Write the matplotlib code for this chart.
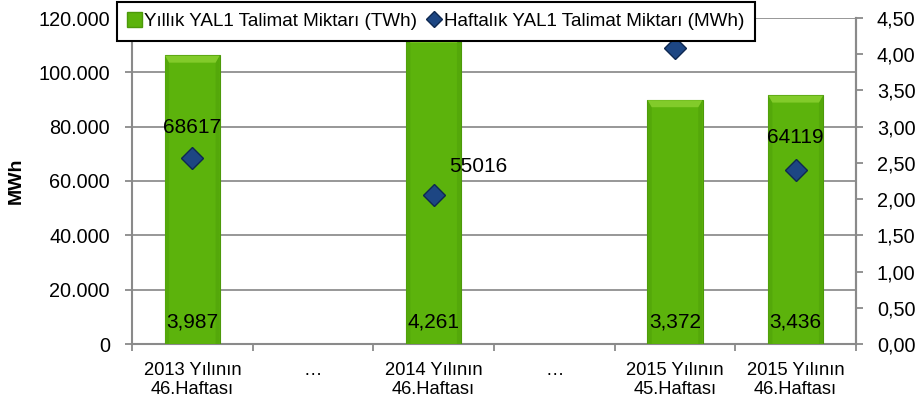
import numpy as np
import matplotlib
matplotlib.use("Agg")
import matplotlib.pyplot as plt
from matplotlib.ticker import FuncFormatter, FixedLocator
from matplotlib.lines import Line2D
from matplotlib.patches import Patch, Polygon
from matplotlib.transforms import IdentityTransform

plt.rcParams['font.family'] = ['Liberation Sans', 'DejaVu Sans']

categories = ["2013 Yılının\n46.Haftası", "…", "2014 Yılının\n46.Haftası", "…",
              "2015 Yılının\n45.Haftası", "2015 Yılının\n46.Haftası"]
yearly_twh = [3.987, np.nan, 4.261, np.nan, 3.372, 3.436]
yearly_labels = ["3,987", "", "4,261", "", "3,372", "3,436"]
weekly_mwh = [68617, np.nan, 55016, np.nan, 109000, 64119]
weekly_labels = ["68617", "", "55016", "", "", "64119"]
left_ticks = [0, 20000, 40000, 60000, 80000, 100000, 120000]
right_ticks = [0, 0.5, 1.0, 1.5, 2.0, 2.5, 3.0, 3.5, 4.0, 4.5]
series_names = ["Yıllık YAL1 Talimat Miktarı (TWh)", "Haftalık YAL1 Talimat Miktarı (MWh)"]

GRID = '#8f8f8f'
SPINE = '#8a8a8a'
BAR = '#5cb30c'
BAR_EDGE = '#4c990a'
BAR_TOP = '#82cb2a'
BAR_SIDE = '#54a80a'
DIA = '#1d4683'
DIA_EDGE = '#0e2850'

fig = plt.figure(figsize=(9.18, 4.01), dpi=100)
pos = [132/918, 1-344/401, (856-132)/918, (344-18)/401]

# Grid / left axis (MWh)
axg = fig.add_axes(pos, zorder=0)
axg.set_ylim(0, 120000)
axg.set_xlim(-0.5, len(categories)-0.5)
axg.yaxis.set_major_locator(FixedLocator(left_ticks))
axg.yaxis.set_major_formatter(FuncFormatter(lambda v, p: f"{int(v):,}".replace(",", ".")))
axg.grid(axis='y', color=GRID, lw=1.3, zorder=0)
axg.set_axisbelow(True)
axg.tick_params(axis='y', labelsize=14.3, length=5, width=1.3, color=SPINE, pad=11)
axg.set_ylabel("MWh", fontsize=14, fontweight='bold', labelpad=10)
x = np.arange(len(categories))
axg.set_xticks(x)
axg.set_xticklabels(categories, fontsize=13.2, linespacing=1.12)
axg.tick_params(axis='x', which='major', length=0, pad=13)
axg.set_xticks(np.arange(-0.5, len(categories)), minor=True)
axg.tick_params(axis='x', which='minor', length=5, width=1.3, color=SPINE)
axg.spines['top'].set_visible(False)
for s in ['left', 'right', 'bottom']:
    axg.spines[s].set_color(SPINE)
    axg.spines[s].set_linewidth(1.5)

# Bars (right axis, TWh)
axb = fig.add_axes(pos, zorder=1, sharex=axg)
axb.patch.set_visible(False)
axb.set_ylim(0, 4.5)
axb.yaxis.tick_right()
axb.xaxis.set_visible(False)
axb.yaxis.set_major_locator(FixedLocator(right_ticks))
axb.yaxis.set_major_formatter(FuncFormatter(lambda v, p: f"{v:.2f}".replace(".", ",")))
axb.tick_params(axis='y', labelsize=14.3, length=5, width=1.3, color=SPINE, pad=10)
for s in ['top', 'left', 'bottom']:
    axb.spines[s].set_visible(False)
axb.spines['right'].set_color(SPINE)
axb.spines['right'].set_linewidth(1.5)
bars = axb.bar(x, yearly_twh, width=0.46, color=BAR, edgecolor=BAR_EDGE, lw=0.8, zorder=2)

fig.canvas.draw()
dt, ds = 7, 4
for b, v in zip(bars, yearly_twh):
    if np.isnan(v):
        continue
    (x0, y0), (x1, y1) = axb.transData.transform([(b.get_x(), 0), (b.get_x()+b.get_width(), v)])
    x0 += 0.5; x1 -= 0.5; y1 -= 0.5
    left = Polygon([(x0, y1), (x0+ds, y1-dt), (x0+ds, y0), (x0, y0)], closed=True,
                   transform=IdentityTransform(), facecolor=BAR_SIDE, edgecolor='none', zorder=3)
    right = Polygon([(x1, y1), (x1-ds, y1-dt), (x1-ds, y0), (x1, y0)], closed=True,
                    transform=IdentityTransform(), facecolor=BAR_SIDE, edgecolor='none', zorder=3)
    top = Polygon([(x0, y1), (x1, y1), (x1-ds, y1-dt), (x0+ds, y1-dt)], closed=True,
                  transform=IdentityTransform(), facecolor=BAR_TOP, edgecolor='none', zorder=3)
    for p in (left, right, top):
        p.set_clip_path(axb.patch)
        axb.add_artist(p)

for xi, v, lab in zip(x, yearly_twh, yearly_labels):
    if lab:
        axb.annotate(lab, (xi, 0), xytext=(0, 16), textcoords='offset points',
                     ha='center', va='center', fontsize=15, color='black', zorder=5)

# Diamonds (left axis scale)
axd = fig.add_axes(pos, zorder=2, sharex=axg)
axd.set_ylim(0, 120000)
axd.axis('off')
axd.plot(x, weekly_mwh, ls='none', marker='D', ms=11, mfc=DIA, mec=DIA_EDGE, mew=1)
offsets = {0: (0, 22), 2: (32, 20), 5: (0, 23)}
for xi, v, lab in zip(x, weekly_mwh, weekly_labels):
    if lab:
        dx, dy = offsets.get(xi, (0, 22))
        axd.annotate(lab, (xi, v), xytext=(dx, dy), textcoords='offset points',
                     ha='center', va='center', fontsize=15, color='black')

handles = [Patch(facecolor=BAR, edgecolor=BAR_EDGE),
           Line2D([], [], ls='none', marker='D', ms=8, mfc=DIA, mec=DIA_EDGE)]
leg = fig.legend(handles, series_names, loc='upper left', ncol=2,
                 bbox_to_anchor=(117/918, 1-2/401), fontsize=13.6, frameon=True,
                 fancybox=False, framealpha=1, edgecolor='black',
                 handlelength=0.8, handleheight=0.8, handletextpad=0.1,
                 columnspacing=0.5, borderpad=0.55, borderaxespad=0)
leg.get_frame().set_linewidth(1.5)
leg.set_zorder(10)

fig.savefig("out.png", dpi=100)
